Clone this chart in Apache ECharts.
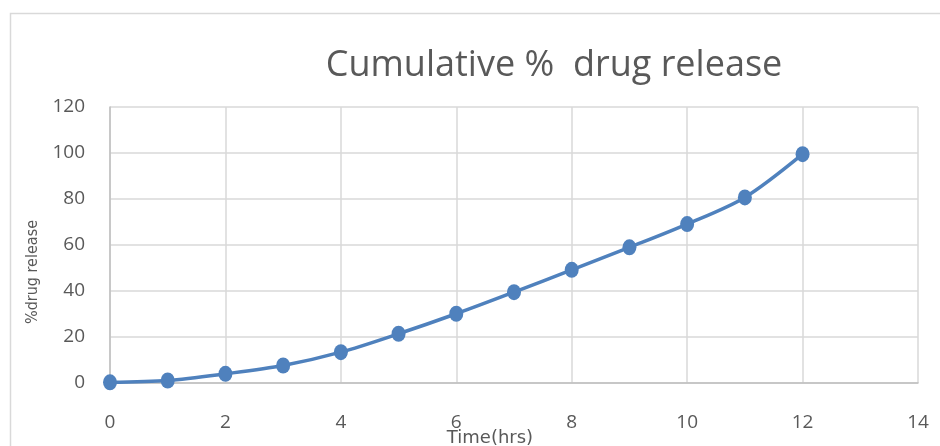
<!DOCTYPE html>
<html>
<head>
<meta charset="utf-8">
<script src="https://cdn.jsdelivr.net/npm/echarts@6/dist/echarts.min.js"></script>
<style>
  html, body { margin: 0; padding: 0; background: #ffffff; }
  #chart { width: 940px; height: 446px; }
</style>
</head>
<body>
<div id="chart"></div>
<script>
// Release time points (hours) and cumulative drug release (%)
const timeHrs = [0, 1, 2, 3, 4, 5, 6, 7, 8, 9, 10, 11, 12];
const releasePct = [0.3, 1.1, 4.0, 7.6, 13.4, 21.4, 30.1, 39.5, 49.2, 59.0, 69.1, 80.7, 99.5];

const chartTitle = 'Cumulative %  drug release';
const xAxisTitle = 'Time(hrs)';
const yAxisTitle = '%drug release';

const points = timeHrs.map((t, i) => [t, releasePct[i]]);

const chart = echarts.init(document.getElementById('chart'), null, { renderer: 'canvas' });

chart.setOption({
  animation: false,
  backgroundColor: '#ffffff',
  title: {
    text: chartTitle,
    left: 549,
    top: 43,
    textAlign: 'center',
    textStyle: {
      fontFamily: 'Open Sans',
      fontSize: 36,
      fontWeight: 'normal',
      color: '#595959'
    }
  },
  graphic: [{
    type: 'rect',
    silent: true,
    z: -1,
    shape: { x: 10.5, y: 13.5, width: 1000, height: 500 },
    style: { fill: 'none', stroke: '#d9d9d9', lineWidth: 1.5 }
  }],
  grid: { left: 110, right: 22, top: 107, bottom: 63, containLabel: false, outerBoundsMode: 'none' },
  xAxis: {
    type: 'value',
    min: 0,
    max: 14,
    interval: 2,
    name: xAxisTitle,
    nameLocation: 'middle',
    nameGap: 46,
    nameMoveOverlap: false,
    nameTextStyle: {
      fontFamily: 'DejaVu Sans',
      fontSize: 18,
      color: '#595959',
      padding: [0, 48, 0, 0]
    },
    axisLine: { show: true, lineStyle: { color: '#bfbfbf', width: 1.5 } },
    axisTick: { show: false },
    splitLine: { show: true, lineStyle: { color: '#d9d9d9', width: 1.5 } },
    axisLabel: {
      margin: 30,
      fontFamily: 'Open Sans',
      fontSize: 19,
      color: '#595959'
    }
  },
  yAxis: {
    type: 'value',
    min: 0,
    max: 120,
    interval: 20,
    name: yAxisTitle,
    nameLocation: 'middle',
    nameGap: 69,
    nameRotate: 90,
    nameMoveOverlap: false,
    nameTextStyle: {
      fontFamily: 'DejaVu Sans Condensed',
      fontSize: 16,
      color: '#595959',
      padding: [0, 54, 0, 0]
    },
    axisLine: { show: true, lineStyle: { color: '#bfbfbf', width: 1.5 } },
    axisTick: { show: false },
    splitLine: { show: true, lineStyle: { color: '#d9d9d9', width: 1.5 } },
    axisLabel: {
      margin: 25,
      fontFamily: 'Open Sans',
      fontSize: 19,
      color: '#595959'
    }
  },
  series: [{
    type: 'line',
    data: points,
    smooth: 0.3,
    symbol: 'circle',
    symbolSize: [14, 16],
    clip: false,
    lineStyle: { color: '#4f81bd', width: 3.5 },
    itemStyle: { color: '#4f81bd' }
  }]
});
</script>
</body>
</html>
